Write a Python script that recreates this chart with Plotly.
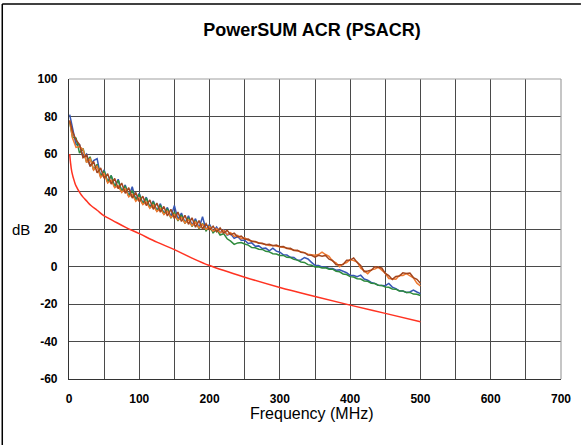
import plotly.graph_objects as go

FREQ = [1] + list(range(5, 505, 5))

BLUE = [81, 74, 65, 65, 58.5, 60, 53.5, 56.5, 57.5, 48, 51.5,
        45, 48.5, 42.5, 46.5, 40, 43.5, 37.5, 42.5, 35.5, 39,
        33.5, 37, 31.5, 35, 29.5, 33.5, 28, 31.5, 26.5, 32.5,
        25, 28.5, 23.2, 27, 22, 25.5, 20.5, 26.5, 19.5, 22.5,
        18.5, 21, 18, 19.5, 16.8, 17.5, 15, 16, 14, 14,
        12.3, 12.6, 10.8, 11, 9.6, 9.8, 8.4, 9.8, 8.2, 7.6,
        6.2, 6.1, 4.9, 4.8, 3.3, 3.5, 4.8, 4, 2.2, 0.6,
        0.5, -0.2, -0.2, -1, -1, -2, -1.8, -2.4, -3.3, -4.7,
        -4.8, -5.4, -4.6, -6.7, -7.3, -8.5, -9, -10, -10.1, -10.2,
        -9, -11, -11.8, -13, -13.1, -13.8, -13.6, -12.6, -13.6, -14.5]

GREEN = [77, 69, 68.5, 60.5, 63, 55.5, 58.5, 51.5, 54.5, 48, 51,
         45, 48.5, 42.5, 46, 40, 43, 37.5, 40.5, 35.5, 38.5,
         33.3, 36.5, 31.2, 34.5, 29.5, 32.8, 27.8, 30.8, 25.8, 29,
         24.3, 27.5, 23, 26, 21.3, 24.5, 20, 23, 19, 21.5,
         18, 19.8, 16.8, 17.5, 14.8, 13.5, 11.8, 12.6, 12.8, 12,
         11.4, 10.1, 10, 9.2, 9.1, 8.1, 7.8, 6.8, 6.7, 5.9,
         5.9, 4.9, 4.8, 3.8, 3.4, 2.4, 2.2, 1, 0.7, -0.2,
         -0.1, -0.8, -0.7, -1.4, -1.4, -2.5, -2.8, -4, -4.3, -5.4,
         -5.6, -6.5, -6.7, -7.7, -7.9, -8.9, -9.1, -10, -10.1, -11,
         -11.1, -12, -12.1, -13, -13, -13.8, -13.8, -14.7, -14.8, -15.5]

BROWN = [78, 72, 67.5, 65, 58, 59.5, 53.5, 56, 50, 52.5, 47,
         49.5, 44, 47, 41.5, 44.5, 39, 42, 36.5, 39.5, 34.5,
         37.5, 32.5, 35.5, 30.5, 33.8, 29, 32, 27, 30.5, 25.5,
         29, 24, 27.3, 22.5, 26, 21, 24.5, 20, 22.8, 19.5,
         21.5, 18.5, 20.5, 17.8, 19.3, 17, 17.8, 15.8, 16.2, 14.5,
         14.6, 13.4, 13.4, 12.4, 12.4, 11.6, 11.9, 11.1, 11.4, 10.6,
         10.7, 9.6, 9.7, 8.6, 8.7, 7.6, 7.4, 6.1, 6, 5,
         6, 5.5, 5.9, 3.9, 3.2, 0.9, 1, 1.1, 3.3, 3.4,
         4.6, 2.2, 0.6, -2.7, -2.4, -2, -0.1, -0.5, -0.8, -3.7,
         -4.9, -6.9, -5.3, -5.1, -3.4, -3.7, -3.5, -5.9, -6.8, -8.9]

ORANGE = [77.5, 68.5, 63.5, 64, 62.5, 55.5, 57.5, 51.5, 53.5, 47.5, 49.5,
          44.5, 46, 42, 43, 39.5, 41.5, 37.2, 38.5, 34.8, 36.5,
          33, 34.5, 31, 32.8, 29.3, 31, 27.7, 29.5, 26.2, 27.8,
          24.8, 26.2, 23.2, 25, 21.8, 23.8, 20.5, 22.6, 19.8, 21.3,
          18.8, 20.3, 18, 19.3, 17, 18, 16, 16.6, 14.8, 15.3,
          14, 13.6, 13, 12.6, 12.1, 11.7, 11.2, 11.2, 10.9, 10.9,
          10.4, 9.9, 9.2, 8.8, 8.5, 8, 7.4, 6.6, 6.1, 6,
          6.4, 7.7, 6.4, 5.4, 2.8, 1.9, -0.1, 1.4, 2.1, 3.7,
          3.2, 2.4, -0.9, -2.6, -3.8, -1.8, -1.4, -0.4, -2.2, -3.6,
          -6.4, -6.6, -6.8, -4.8, -4.8, -3.8, -5.2, -6.1, -8.9, -10.4]

LIMIT_FREQ = [1, 2, 4, 8, 10, 16, 20, 25, 31.25, 40, 50, 62.5, 80, 100,
              125, 150, 175, 200, 250, 300, 350, 400, 450, 500]
LIMIT_DB = [60, 56, 50.5, 45, 43, 39, 37, 35, 32.5, 30, 27, 24.5, 21, 17.5,
            13, 9, 4.5, 0.5, -5.7, -11.2, -16, -20.6, -25, -29.5]

X_TICKS = [0, 100, 200, 300, 400, 500, 600, 700]
Y_TICKS = [-60, -40, -20, 0, 20, 40, 60, 80, 100]

TITLE = "PowerSUM ACR (PSACR)"
X_TITLE = "Frequency (MHz)"
Y_TITLE = "dB"

FONT = "Liberation Sans, Arial, sans-serif"

fig = go.Figure()
series = [
    (BLUE, "#3656b4"),
    (GREEN, "#2e8b3c"),
    (ORANGE, "#f07a30"),
    (BROWN, "#a3461e"),
]
for vals, col in series:
    fig.add_trace(go.Scatter(x=FREQ, y=vals, mode="lines",
                             line=dict(color=col, width=1.5),
                             showlegend=False, hoverinfo="skip"))
fig.add_trace(go.Scatter(x=LIMIT_FREQ, y=LIMIT_DB, mode="lines",
                         line=dict(color="#ff3322", width=1.5, shape="spline"),
                         showlegend=False, hoverinfo="skip"))

PL, PR, PT, PB = 69, 563, 79, 379
W, H = 583, 445
PW, PH = PR - PL, PB - PT

def px(x):
    return (x - PL) / PW

def py(y):
    return (PB - y) / PH

fig.update_layout(
    width=W, height=H,
    margin=dict(l=PL, r=W - PR, t=PT, b=H - PB),
    paper_bgcolor="white", plot_bgcolor="white",
    font=dict(family=FONT, color="black"),
    title=dict(text="<b>" + TITLE + "</b>", x=312 / W, xanchor="center",
               y=1 - 30 / H, yanchor="middle",
               font=dict(size=18, family=FONT, color="black")),
    xaxis=dict(range=[0, 700], tickvals=X_TICKS, ticktext=[str(v) for v in X_TICKS],
               showgrid=True, gridcolor="#4a4a4a", gridwidth=1,
               minor=dict(dtick=50, tick0=0, showgrid=True, gridcolor="#4a4a4a", gridwidth=1),
               showline=True, linecolor="#333333", linewidth=1.2,
               zeroline=False, ticks="", ticklabelstandoff=8,
               tickfont=dict(size=12, family=FONT, color="black", weight="bold")),
    yaxis=dict(range=[-60, 100], tickvals=Y_TICKS, ticktext=[str(v) for v in Y_TICKS],
               showgrid=True, gridcolor="#4a4a4a", gridwidth=1,
               showline=True, linecolor="#333333", linewidth=1.2,
               zeroline=False, ticks="", ticklabelstandoff=8,
               tickfont=dict(size=12, family=FONT, color="black", weight="bold")),
    annotations=[
        dict(text=Y_TITLE, xref="paper", yref="paper",
             x=px(21), y=0.5, xanchor="center", yanchor="middle",
             showarrow=False, font=dict(size=15, family=FONT, color="black")),
        dict(text=X_TITLE, xref="paper", yref="paper",
             x=px(313), y=py(413), xanchor="center", yanchor="middle",
             showarrow=False, font=dict(size=16, family=FONT, color="black")),
    ],
    shapes=[
        dict(type="line", xref="paper", yref="paper", x0=0, x1=1, y0=1, y1=1,
             line=dict(color="#a0a0a0", width=1.2)),
        dict(type="line", xref="paper", yref="paper", x0=1, x1=1, y0=0, y1=1,
             line=dict(color="#a0a0a0", width=1.2)),
        dict(type="line", xref="paper", yref="paper", x0=px(2), x1=px(583),
             y0=py(4), y1=py(4), line=dict(color="black", width=1.5)),
        dict(type="line", xref="paper", yref="paper", x0=px(2), x1=px(2),
             y0=py(4), y1=py(446), line=dict(color="black", width=1.5)),
    ],
)

fig.write_html("out.html", config={"displayModeBar": False},
               post_script="document.body.style.margin='0';document.body.style.overflow='hidden';")
